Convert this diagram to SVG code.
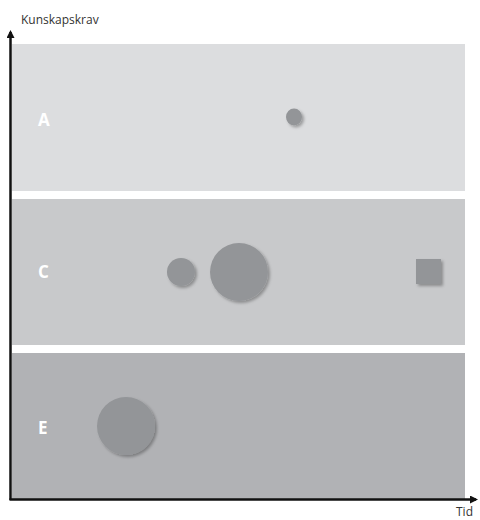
<svg xmlns="http://www.w3.org/2000/svg" width="480" height="520" viewBox="0 0 480 520">
<defs>
<filter id="sh" x="-30%" y="-30%" width="170%" height="170%">
<feDropShadow dx="2" dy="2" stdDeviation="1.6" flood-color="#000" flood-opacity="0.3"/>
</filter>
<marker id="ah" markerWidth="8" markerHeight="8" refX="6" refY="4" orient="auto" markerUnits="userSpaceOnUse">
<path d="M0,0 L8,4 L0,8 Z" fill="#111"/>
</marker>
<style>
.lbl{font-family:"Open Sans","Liberation Sans",sans-serif;font-weight:bold;font-size:17px;fill:#fff}
.ax{font-family:"Open Sans","Liberation Sans",sans-serif;font-size:12px;fill:#333}
.dot{fill:#939598;filter:url(#sh)}
</style>
</defs>
<rect width="480" height="520" fill="#fff"/>
<g id="bandA"><rect x="12" y="44" width="453" height="147" fill="#dcdddf"/><text class="lbl" x="38" y="126">A</text></g>
<g id="bandC"><rect x="12" y="199" width="453" height="146" fill="#c8c9cb"/><text class="lbl" x="38" y="278">C</text></g>
<g id="bandE"><rect x="12" y="353" width="453" height="146" fill="#b1b2b5"/><text class="lbl" x="38" y="434">E</text></g>
<g id="dotA1"><ellipse class="dot" cx="294" cy="117" rx="8" ry="8.5"/></g>
<g id="dotC1"><circle class="dot" cx="181" cy="272" r="14"/></g>
<g id="dotC2"><circle class="dot" cx="239" cy="272" r="29"/></g>
<g id="sqC"><rect class="dot" x="416" y="259" width="25" height="25"/></g>
<g id="dotE1"><circle class="dot" cx="126" cy="426" r="29"/></g>
<g id="axes" stroke="#111" stroke-width="2.5" fill="none">
<line x1="10.5" y1="500" x2="10.5" y2="32" marker-end="url(#ah)"/>
<line x1="9.5" y1="499.5" x2="476" y2="499.5" marker-end="url(#ah)"/>
</g>
<text class="ax" x="21" y="24">Kunskapskrav</text>
<text class="ax" x="456" y="516">Tid</text>
</svg>
